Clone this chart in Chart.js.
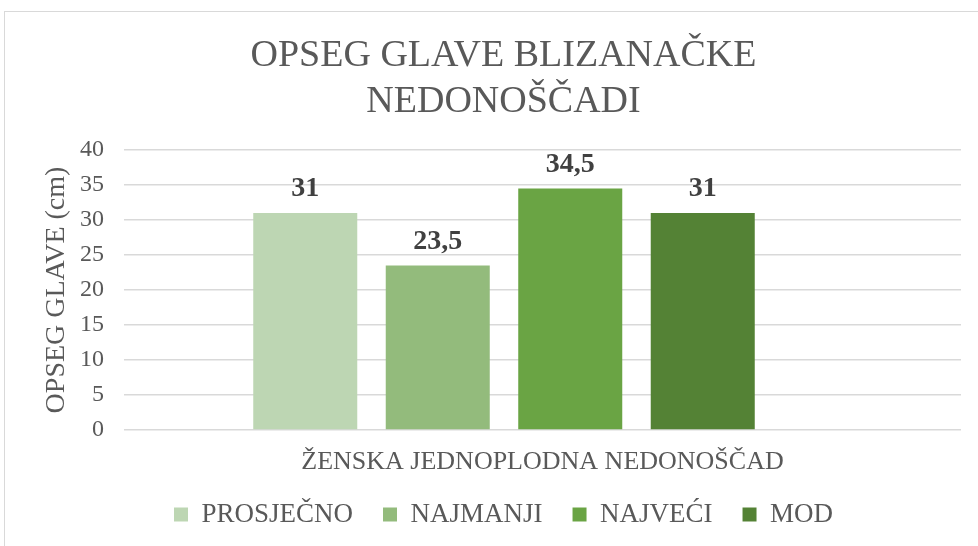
<!DOCTYPE html>
<html>
<head>
<meta charset="utf-8">
<script src="https://cdn.jsdelivr.net/npm/chart.js@4.4.1/dist/chart.umd.min.js"></script>
<style>
  html, body { margin: 0; padding: 0; background: #ffffff; overflow: hidden; }
  #wrap { position: relative; width: 978px; height: 546px; }
</style>
</head>
<body>
<div id="wrap"><canvas id="c" width="978" height="546"></canvas></div>
<script>
// ---- data ----
const titleLines = ['OPSEG GLAVE BLIZANAČKE', 'NEDONOŠČADI'];
const categories = ['ŽENSKA JEDNOPLODNA NEDONOŠČAD'];
const seriesNames = ['PROSJEČNO', 'NAJMANJI', 'NAJVEĆI', 'MOD'];
const prosjecno = [31];
const najmanji = [23.5];
const najveci = [34.5];
const mod = [31];
const yTickValues = [0, 5, 10, 15, 20, 25, 30, 35, 40];
const yTitle = 'OPSEG GLAVE (cm)';

const seriesColors = ['#BDD6B3', '#93BB7C', '#6AA444', '#548235'];
const FONT = "'Liberation Serif', 'Times New Roman', serif";
const TEXT = '#595959';

const frame = {
  id: 'frame',
  beforeDraw(chart) {
    const ctx = chart.ctx;
    ctx.save();
    ctx.fillStyle = '#ffffff';
    ctx.fillRect(0, 0, chart.width, chart.height);
    ctx.strokeStyle = '#d9d9d9';
    ctx.lineWidth = 1;
    ctx.strokeRect(4.5, 11.5, 2000, 2000);
    ctx.restore();
  }
};

const barShift = {
  id: 'barShift',
  afterLayout(chart, args, opts) {
    const s = chart.scales.x;
    s._startPixel += opts.dx;
    s._endPixel += opts.dx;
  }
};

const valueLabels = {
  id: 'valueLabels',
  afterDatasetsDraw(chart, args, opts) {
    const ctx = chart.ctx;
    ctx.save();
    ctx.font = 'bold 28px ' + FONT;
    ctx.fillStyle = opts.color;
    ctx.textAlign = 'center';
    ctx.textBaseline = 'alphabetic';
    chart.data.datasets.forEach((ds, i) => {
      const meta = chart.getDatasetMeta(i);
      meta.data.forEach((bar, j) => {
        const v = ds.data[j];
        ctx.fillText(String(v).replace('.', ','), bar.x, bar.y - opts.offset);
      });
    });
    ctx.restore();
  }
};

const seriesData = [prosjecno, najmanji, najveci, mod];

new Chart(document.getElementById('c'), {
  type: 'bar',
  data: {
    labels: categories,
    datasets: seriesNames.map((name, i) => ({
      label: name,
      data: seriesData[i],
      backgroundColor: seriesColors[i],
      borderWidth: 0,
      categoryPercentage: 0.6332,
      barPercentage: 0.785
    }))
  },
  plugins: [frame, barShift, valueLabels],
  options: {
    responsive: false,
    animation: false,
    devicePixelRatio: 1,
    layout: { padding: { left: 46, right: 17, top: 0, bottom: 8 } },
    plugins: {
      barShift: { dx: -38.5 },
      valueLabels: { color: '#404040', offset: 17 },
      tooltip: { enabled: false },
      title: {
        display: true,
        text: titleLines,
        color: TEXT,
        font: { family: FONT, size: 38, weight: 'normal', lineHeight: 1.2 },
        padding: { top: 33.2, bottom: 25.6 }
      },
      legend: {
        display: true,
        position: 'bottom',
        labels: {
          color: TEXT,
          font: { family: FONT, size: 27 },
          boxWidth: 14,
          boxHeight: 14,
          padding: 30
        }
      }
    },
    scales: {
      x: {
        type: 'category',
        grid: { display: false, drawTicks: false },
        border: { display: false },
        ticks: { display: false },
        title: {
          display: true,
          text: categories[0],
          color: TEXT,
          font: { family: FONT, size: 26, lineHeight: 1.2 },
          padding: { top: 16.4, bottom: -6.6 }
        }
      },
      y: {
        min: 0,
        max: 40,
        afterBuildTicks(scale) { scale.ticks = yTickValues.map(v => ({ value: v })); },
        afterFit(scale) { scale.width = 78; },
        grid: { color: '#d9d9d9', lineWidth: 1.5, drawTicks: false },
        border: { display: false },
        ticks: {
          color: TEXT,
          font: { family: FONT, size: 24 },
          padding: 20
        },
        title: {
          display: true,
          text: yTitle,
          color: TEXT,
          font: { family: FONT, size: 28, lineHeight: 1 },
          padding: { top: -3, bottom: 0 }
        }
      }
    }
  }
});
</script>
</body>
</html>
